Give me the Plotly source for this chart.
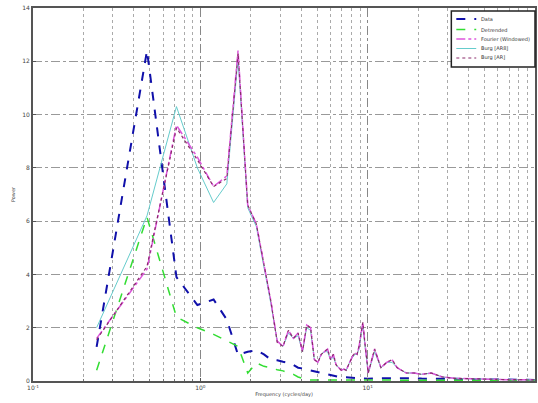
import plotly.graph_objects as go

freq = [0.24, 0.48, 0.72, 0.96, 1.20, 1.44, 1.68, 1.92, 2.16, 2.40,
        2.64, 2.88, 3.12, 3.36, 3.60, 3.84, 4.08, 4.32, 4.56, 4.80,
        5.04, 5.28, 5.52, 5.76, 6.00, 6.24, 6.48, 6.72, 6.96, 7.20,
        7.44, 7.68, 7.92, 8.16, 8.40, 8.64, 8.88, 9.12, 9.36, 9.60,
        9.84, 10.08, 11, 12, 13, 14, 15, 17, 19, 21,
        24, 28, 33, 40, 50, 60, 70, 80, 90, 100]

data_vals = [1.28, 12.4, 3.9, 2.85, 3.06, 2.3, 0.98, 1.1, 1.15, 1.0,
             0.8, 0.78, 0.72, 0.68, 0.6, 0.5, 0.47, 0.43, 0.4, 0.36,
             0.34, 0.3, 0.26, 0.23, 0.21, 0.19, 0.17, 0.15, 0.15, 0.14,
             0.13, 0.12, 0.12, 0.11, 0.11, 0.11, 0.1, 0.1, 0.09, 0.09,
             0.08, 0.08, 0.1, 0.1, 0.11, 0.1, 0.1, 0.12, 0.1, 0.09,
             0.08, 0.07, 0.08, 0.07, 0.06, 0.06, 0.05, 0.05, 0.04, 0.04]

detrended_vals = [0.4, 6.15, 2.4, 2.0, 1.75, 1.5, 1.3, 0.3, 0.68, 0.55,
                  0.5, 0.42, 0.38, 0.3, 0.25, 0.15, 0.1, 0.05, 0.04, 0.04,
                  0.03, 0.04, 0.03, 0.03, 0.03, 0.02, 0.03, 0.02, 0.02, 0.02,
                  0.02, 0.02, 0.02, 0.02, 0.02, 0.02, 0.02, 0.02, 0.02, 0.02,
                  0.02, 0.02, 0.02, 0.02, 0.02, 0.02, 0.02, 0.02, 0.02, 0.02,
                  0.02, 0.02, 0.02, 0.02, 0.02, 0.02, 0.02, 0.02, 0.02, 0.02]

fourier_vals = [1.6, 4.2, 9.6, 8.4, 7.3, 7.7, 12.4, 6.6, 5.9, 4.4,
                3.0, 1.5, 1.3, 1.9, 1.6, 1.8, 1.1, 2.1, 2.0, 0.8,
                0.7, 1.0, 1.1, 1.2, 0.8, 1.0, 0.6, 0.5, 0.4, 0.45,
                0.4, 0.6, 0.8, 0.95, 1.05, 1.0, 1.3, 1.8, 2.2, 1.5,
                0.9, 0.3, 1.2, 0.5, 0.7, 0.8, 0.5, 0.3, 0.3, 0.25,
                0.3, 0.15, 0.1, 0.08, 0.07, 0.06, 0.05, 0.05, 0.04, 0.04]

burg8_vals = [2.0, 6.2, 10.3, 8.0, 6.7, 7.4, 12.1, 6.5, 5.8, 4.3,
              2.9, 1.5, 1.3, 1.8, 1.6, 1.7, 1.1, 2.0, 1.9, 0.8,
              0.7, 1.0, 1.1, 1.1, 0.8, 0.9, 0.6, 0.5, 0.4, 0.45,
              0.4, 0.6, 0.8, 0.9, 1.0, 1.0, 1.2, 1.7, 2.1, 1.4,
              0.9, 0.3, 1.1, 0.5, 0.7, 0.7, 0.5, 0.3, 0.3, 0.25,
              0.3, 0.15, 0.1, 0.08, 0.07, 0.06, 0.05, 0.05, 0.04, 0.04]

burg_vals = [1.55, 4.3, 9.5, 8.3, 7.3, 7.6, 12.3, 6.6, 5.9, 4.4,
             3.0, 1.45, 1.3, 1.9, 1.6, 1.8, 1.1, 2.1, 2.0, 0.8,
             0.7, 1.0, 1.1, 1.2, 0.8, 1.0, 0.6, 0.5, 0.4, 0.45,
             0.4, 0.6, 0.8, 0.95, 1.05, 1.0, 1.3, 1.8, 2.2, 1.5,
             0.9, 0.3, 1.2, 0.5, 0.7, 0.8, 0.5, 0.3, 0.3, 0.25,
             0.3, 0.15, 0.1, 0.08, 0.07, 0.06, 0.05, 0.05, 0.04, 0.04]

series_names = ["Data", "Detrended", "Fourier (Windowed)", "Burg [AR8]", "Burg [AR]"]

y_ticks = [0, 2, 4, 6, 8, 10, 12, 14]
x_ticks = [0.1, 1, 10]
x_tick_text = ["10<sup>-1</sup>", "10<sup>0</sup>", "10<sup>1</sup>"]
x_minor_ticks = [0.2, 0.3, 0.4, 0.5, 0.6, 0.7, 0.8, 0.9,
                 2, 3, 4, 5, 6, 7, 8, 9,
                 20, 30, 40, 50, 60, 70, 80, 90]

# styles in legend order
styles = [
    dict(color="#1010aa", width=2, dash="dash"),
    dict(color="#33dd33", width=1.5, dash="dash"),
    dict(color="#dd55dd", width=1.5, dash="dashdot"),
    dict(color="#66cccc", width=1, dash="solid"),
    dict(color="#8a2a6a", width=1.2, dash="dot"),
]
values = [data_vals, detrended_vals, fourier_vals, burg8_vals, burg_vals]
draw_order = [0, 1, 3, 2, 4]

fig = go.Figure()
for i in draw_order:
    fig.add_trace(go.Scatter(x=freq, y=values[i], name=series_names[i], mode="lines",
                             showlegend=False, line=styles[i]))

# custom compact legend (layout, paper coordinates)
L, R, T, B = 33, 1, 8, 22
W, H = 538, 403
pw, ph = W - L - R, H - T - B
def px_x(p):
    return (p - L) / pw
def px_y(p):
    return (H - B - p) / ph

shapes = [dict(type="rect", xref="paper", yref="paper", layer="above",
               x0=px_x(453), x1=px_x(537), y0=px_y(67), y1=px_y(11),
               fillcolor="white", line=dict(color="#222", width=1.5))]
annotations = []
row_py = [19, 29.5, 39, 48.5, 58]
for i, name in enumerate(series_names):
    yy = px_y(row_py[i])
    st = styles[i]
    shapes.append(dict(type="line", xref="paper", yref="paper", layer="above",
                       x0=px_x(458), x1=px_x(478), y0=yy, y1=yy,
                       line=dict(color=st["color"], width=st["width"], dash=st["dash"])))
    annotations.append(dict(text=name, xref="paper", yref="paper", x=px_x(481), y=yy,
                            xanchor="left", yanchor="middle", showarrow=False,
                            font=dict(size=5, color="#333")))

fig.update_layout(
    width=W, height=H,
    margin=dict(l=L, r=R, t=T, b=B),
    paper_bgcolor="white", plot_bgcolor="white",
    font=dict(family="DejaVu Sans", size=5, color="#444"),
    showlegend=False,
    shapes=shapes, annotations=annotations,
    xaxis=dict(type="log", range=[-1, 2], tickvals=x_ticks, ticktext=x_tick_text,
               tickfont=dict(size=6),
               showline=True, linecolor="#555", linewidth=2, mirror=True,
               ticks="inside", ticklen=3, tickcolor="#555",
               showgrid=True, gridcolor="#888", griddash="dashdot", gridwidth=1,
               minor=dict(tickvals=x_minor_ticks, showgrid=True, gridcolor="#aaa",
                          griddash="dot", ticks="inside", ticklen=2, tickcolor="#777"),
               zeroline=False, title=dict(text="Frequency (cycles/day)", standoff=2,
                                          font=dict(size=5))),
    yaxis=dict(range=[0, 14], tickvals=y_ticks, tickfont=dict(size=6),
               showline=True, linecolor="#555", linewidth=2, mirror=True,
               ticks="inside", ticklen=3, tickcolor="#555",
               showgrid=True, gridcolor="#999", griddash="dashdot", gridwidth=1,
               zeroline=False, title=dict(text="Power", standoff=6, font=dict(size=5))),
)

fig.write_html("out.html")
